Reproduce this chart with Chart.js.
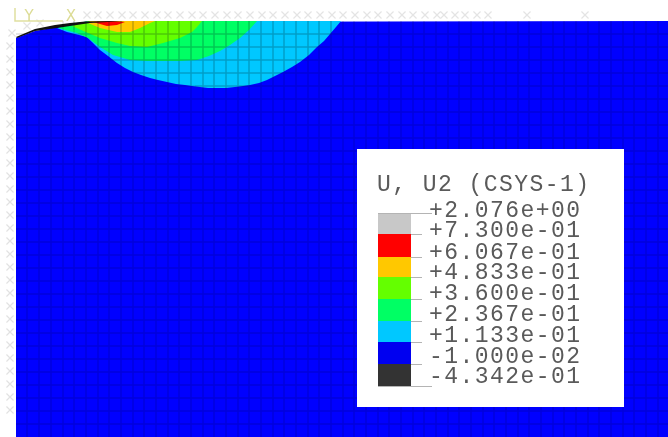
<!DOCTYPE html>
<html>
<head>
<meta charset="utf-8">
<title>U, U2 (CSYS-1)</title>
<script src="https://cdn.jsdelivr.net/npm/chart.js@4"></script>
<style>
html, body { margin: 0; padding: 0; background: #fff; overflow: hidden; }
#plot { display: block; filter: blur(0.5px); }
</style>
</head>
<body>
<canvas id="plot" width="668" height="437"></canvas>
<script>
// legend contents, top to bottom
const legendTitle = 'U, U2 (CSYS-1)';
const legendLabels = ['+2.076e+00', '+7.300e-01', '+6.067e-01', '+4.833e-01', '+3.600e-01', '+2.367e-01', '+1.133e-01', '-1.000e-02', '-4.342e-01'];
const legendColors = ['#c8c8c8', '#ff0000', '#ffc800', '#64ff00', '#00ff64', '#00c8ff', '#0000f0', '#333333'];

// contour outlines (x along the surface, y downwards)
const blueX = [16, 35, 57, 75, 90, 668, 668, 16];
const blueY = [38, 31, 27, 24, 22, 21, 437, 437];
const cyanX = [57, 67, 87, 92, 100, 108, 117, 125, 133, 141, 150, 158, 167, 176, 185, 192, 200, 208, 217, 226, 235, 243, 250, 259, 267, 275, 283, 292, 300, 309, 317, 324, 330, 336, 341, 90, 70];
const cyanY = [28, 32, 37, 42, 50, 56, 63, 68, 72, 75, 78, 80, 82, 84, 85, 86, 87, 88, 88, 88, 87, 86, 85, 83, 80, 76, 72, 67, 62, 55, 47, 41, 34, 27, 21, 21, 24];
const springX = [58, 77, 88, 100, 113, 130, 147, 163, 180, 197, 209, 220, 230, 240, 249, 257, 90, 70];
const springY = [28, 33, 38, 47, 55, 60, 61, 61, 61, 60, 56, 51, 45, 38, 30, 21, 21, 24];
const limeX = [72, 88, 100, 117, 130, 147, 163, 180, 192, 197, 202, 90, 78];
const limeY = [26, 33, 38, 43, 46, 47, 43, 38, 32, 27, 21, 21, 24];
const orangeX = [88, 100, 117, 130, 140, 150, 155, 90];
const orangeY = [23, 28, 32, 32, 28, 23, 21, 21];
const redX = [93, 107, 117, 125, 110];
const redY = [22, 26, 25, 22, 21];
const blackX = [16, 35, 55, 70, 85, 125, 90, 70, 57, 35, 17];
const blackY = [37, 29, 25, 23, 21.5, 21, 23, 26, 28, 31, 38];

// element edges of the mesh
const meshX = [27, 39, 51, 63, 74, 86, 98, 109, 121, 133, 144, 156, 168, 179, 191, 203, 214, 226, 238, 249, 261, 273, 284, 296, 308, 319, 331, 343, 354, 366, 378, 389, 401, 413, 424, 436, 448, 459, 471, 483, 494, 506, 518, 529, 541, 553, 564, 576, 588, 599, 611, 623, 634, 646, 658];
const meshY = [34, 47, 60, 73, 86, 99, 112, 125, 138, 151, 164, 177, 190, 203, 216, 229, 242, 255, 268, 281, 294, 307, 320, 333, 346, 359, 372, 385, 398, 411, 424];

// the same edges where they cross the coloured zone, where they show up darker
const zoneColX = [74, 86, 98, 109, 121, 133, 144, 156, 168, 179, 191, 203, 214, 226, 238, 249, 261, 273, 284, 296, 308, 319, 331];
const zoneColEnd = [30, 36, 48, 57, 66, 72, 76, 79, 82, 84, 86, 87, 88, 88, 87, 85, 82, 77, 71, 64, 56, 47, 35];
const zoneRowY = [34, 47, 60, 73, 86];
const zoneRowFrom = [78, 97, 112, 134, 195];
const zoneRowTo = [331, 318, 303, 282, 248];

// boundary condition markers
const topBcX = [27, 40, 87, 98, 110, 122, 133, 145, 157, 168, 180, 192, 203, 215, 227, 238, 250, 262, 273, 285, 297, 308, 320, 332, 343, 355, 367, 378, 390, 402, 413, 425, 437, 444, 455, 465, 477, 488, 527, 585];
const topBcY = [26, 23, 15, 15, 15, 15, 15, 15, 15, 15, 15, 15, 15, 15, 15, 15, 15, 15, 15, 15, 15, 15, 15, 15, 15, 15, 15, 15, 15, 15, 15, 15, 15, 15, 15, 15, 15, 15, 15, 15];
const leftBcX = [12, 10, 10, 10, 10, 10, 10, 10, 10, 10, 10, 10, 10, 10, 10, 10, 10, 10, 10, 10, 10, 10, 10, 10, 10, 10, 10, 10, 10, 10];
const leftBcY = [33, 46, 59, 72, 85, 98, 111, 124, 137, 150, 163, 176, 189, 202, 215, 228, 241, 254, 267, 280, 293, 306, 319, 332, 345, 358, 371, 384, 397, 410];

function xy(xs, ys) {
    return xs.map((x, i) => ({ x: x, y: ys[i] }));
}

function band(xs, ys, color) {
    return {
        data: xy(xs, ys),
        showLine: true,
        fill: 'shape',
        backgroundColor: color,
        borderColor: color,
        borderWidth: 0,
        pointRadius: 0
    };
}

function meshPoints() {
    const pts = [];
    meshX.forEach(x => {
        pts.push({ x: x, y: x < 63 ? 36 : 21 }, { x: x, y: 437 }, { x: NaN, y: NaN });
    });
    meshY.forEach(y => {
        pts.push({ x: 16, y: y }, { x: 668, y: y }, { x: NaN, y: NaN });
    });
    return pts;
}

function zonePoints() {
    const pts = [];
    zoneColX.forEach((x, i) => {
        pts.push({ x: x, y: 21 }, { x: x, y: zoneColEnd[i] }, { x: NaN, y: NaN });
    });
    zoneRowY.forEach((y, i) => {
        pts.push({ x: zoneRowFrom[i], y: y }, { x: zoneRowTo[i], y: y }, { x: NaN, y: NaN });
    });
    return pts;
}

// white panel, colour key, triad letters
const annotations = {
    id: 'annotations',
    afterDatasetsDraw(chart) {
        const ctx = chart.ctx;
        const sx = chart.scales.x, sy = chart.scales.y;
        const px = v => sx.getPixelForValue(v);
        const py = v => sy.getPixelForValue(v);
        const rowTop = [213, 234, 257, 277, 299, 321, 342, 364, 386];
        const baseline = [217, 237, 259, 279, 300, 321, 342, 363, 383];

        ctx.save();
        ctx.fillStyle = '#ffffff';
        ctx.fillRect(px(357), py(149), px(624) - px(357), py(407) - py(149));

        legendColors.forEach((c, i) => {
            ctx.fillStyle = c;
            ctx.fillRect(px(378), py(rowTop[i]), 33, py(rowTop[i + 1]) - py(rowTop[i]));
        });

        ctx.strokeStyle = '#b4b4b4';
        ctx.lineWidth = 1;
        rowTop.forEach((y, i) => {
            const last = i === 0 || i === rowTop.length - 1;
            ctx.beginPath();
            ctx.moveTo(px(last ? 378 : 411), py(y) + 0.5);
            ctx.lineTo(px(last ? 432 : 422), py(y) + 0.5);
            ctx.stroke();
        });

        ctx.fillStyle = '#5a5a5a';
        ctx.font = '23px "Liberation Mono"';
        ctx.letterSpacing = '1.45px';
        ctx.textBaseline = 'alphabetic';
        ctx.fillText(legendTitle, px(377), py(191));
        legendLabels.forEach((t, i) => ctx.fillText(t, px(429), py(baseline[i])));

        ctx.letterSpacing = '0px';
        ctx.fillStyle = '#dcdc96';
        ctx.font = '15px "DejaVu Sans"';
        ctx.textAlign = 'center';
        ctx.fillText('Y', px(29), py(21));
        ctx.fillText('X', px(71), py(21));
        ctx.restore();
    }
};

new Chart(document.getElementById('plot').getContext('2d'), {
    type: 'scatter',
    data: {
        datasets: [
            { data: xy([15, 15, 63], [8, 21, 21]), showLine: true, borderColor: '#e0e0a0', borderWidth: 1.5, pointRadius: 0 },
            { data: xy(topBcX, topBcY), pointStyle: 'crossRot', pointRadius: 5, pointBorderColor: '#e4e4e4', pointBorderWidth: 1.2, showLine: false },
            { data: xy(leftBcX, leftBcY), pointStyle: 'crossRot', pointRadius: 5, pointBorderColor: '#e2e2e2', pointBorderWidth: 1.2, showLine: false },
            { data: zonePoints(), showLine: true, spanGaps: false, borderColor: 'rgba(0, 60, 60, 0.16)', borderWidth: 1.2, pointRadius: 0 },
            { data: meshPoints(), showLine: true, spanGaps: false, borderColor: 'rgba(0, 0, 0, 0.14)', borderWidth: 1.4, pointRadius: 0 },
            band(blackX, blackY, '#111111'),
            band(redX, redY, '#ff0000'),
            band(orangeX, orangeY, '#ffc800'),
            band(limeX, limeY, '#64ff00'),
            band(springX, springY, '#00ff64'),
            band(cyanX, cyanY, '#00c8ff'),
            band(blueX, blueY, '#0000ff')
        ]
    },
    options: {
        responsive: false,
        animation: false,
        layout: { padding: 0, autoPadding: false },
        plugins: { legend: { display: false }, tooltip: { enabled: false } },
        scales: {
            x: { type: 'linear', min: 0, max: 668, display: false },
            y: { type: 'linear', min: 0, max: 437, reverse: true, display: false }
        }
    },
    plugins: [annotations]
});
</script>
</body>
</html>
